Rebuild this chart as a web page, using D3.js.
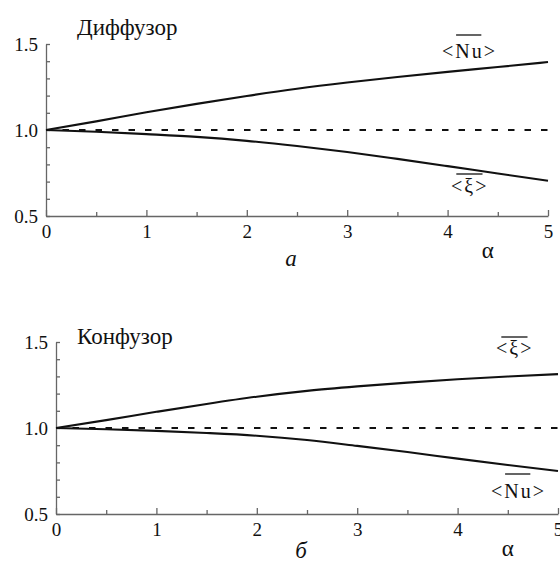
<!DOCTYPE html>
<html>
<head>
<meta charset="utf-8">
<script src="https://cdn.jsdelivr.net/npm/d3@7"></script>
<style>
  body { margin: 0; background: #fff; }
</style>
</head>
<body>
<div id="chart"></div>
<script>
// Data
var alpha = [0, 0.5, 1, 1.5, 2, 2.5, 3, 3.5, 4, 4.5, 5];
var diffNu = [1.0, 1.05, 1.103, 1.152, 1.198, 1.24, 1.276, 1.308, 1.338, 1.366, 1.395];
var diffXi = [1.0, 0.99, 0.976, 0.96, 0.937, 0.907, 0.872, 0.832, 0.79, 0.747, 0.705];
var confXi = [1.0, 1.046, 1.094, 1.14, 1.182, 1.216, 1.242, 1.264, 1.283, 1.299, 1.313];
var confNu = [1.0, 0.993, 0.983, 0.971, 0.955, 0.93, 0.896, 0.86, 0.822, 0.785, 0.75];
var refLevel = [1.0, 1.0];
var refAlpha = [0, 5];

var xMajorTicks = [0, 1, 2, 3, 4, 5];
var xMinorTicks = [0.5, 1.5, 2.5, 3.5, 4.5];
var yMinorTicks = [0.5, 0.6, 0.7, 0.8, 0.9, 1.0, 1.1, 1.2, 1.3, 1.4, 1.5];
var yLabelTicks = [0.5, 1.0, 1.5];

var width = 560, height = 564;
var serif = "Liberation Serif";

var svg = d3.select("#chart").append("svg")
    .attr("width", width)
    .attr("height", height);

// one panel of the figure
function drawPanel(opts) {
    var w = 502, h = 172;
    var g = svg.append("g")
        .attr("transform", "translate(" + opts.left + "," + opts.top + ")");

    var x = d3.scaleLinear().domain([0, 5]).range([0, w]);
    var y = d3.scaleLinear().domain([0.5, 1.5]).range([h, 0]);

    // x axis: major ticks + labels
    var xAxis = g.append("g")
        .attr("transform", "translate(0," + h + ")")
        .call(d3.axisBottom(x).tickValues(xMajorTicks).tickSize(-6).tickSizeOuter(0)
            .tickPadding(9).tickFormat(d3.format("d")));
    // minor x ticks
    g.append("g")
        .attr("transform", "translate(0," + h + ")")
        .call(d3.axisBottom(x).tickValues(xMinorTicks).tickSize(-4).tickSizeOuter(0).tickFormat(""))
        .call(function (a) {
            a.select(".domain").remove();
            a.selectAll("line").attr("stroke", "#666").attr("stroke-width", 1.3);
        });

    // y axis
    var yAxis = g.append("g")
        .call(d3.axisLeft(y).tickValues(yMinorTicks).tickSize(-4).tickSizeOuter(0)
            .tickPadding(8)
            .tickFormat(function (d) {
                return yLabelTicks.some(function (v) { return Math.abs(v - d) < 1e-9; }) ? d3.format(".1f")(d) : "";
            }));

    [xAxis, yAxis].forEach(function (a) {
        a.attr("font-family", serif).attr("font-size", 19);
        a.selectAll("path, line").attr("stroke", "#666").attr("stroke-width", 1.3);
        a.selectAll("text").attr("fill", "#111");
    });
    yAxis.selectAll("text").attr("dy", "0.36em");

    // dashed reference level
    var line = d3.line()
        .x(function (d) { return x(d[0]); })
        .y(function (d) { return y(d[1]); });
    g.append("path")
        .datum(d3.zip(refAlpha, refLevel))
        .attr("d", line)
        .attr("fill", "none")
        .attr("stroke", "#111")
        .attr("stroke-width", 2.2)
        .attr("stroke-dasharray", "6.5,10");

    var curve = d3.line()
        .x(function (d) { return x(d[0]); })
        .y(function (d) { return y(d[1]); })
        .curve(d3.curveMonotoneX);

    [opts.upper, opts.lower].forEach(function (s) {
        g.append("path")
            .datum(d3.zip(alpha, s))
            .attr("d", curve)
            .attr("fill", "none")
            .attr("stroke", "#111")
            .attr("stroke-width", 2.1);
    });

    // title
    g.append("text")
        .attr("x", opts.titleX)
        .attr("y", opts.titleY)
        .attr("font-family", serif)
        .attr("font-size", 23)
        .attr("fill", "#111")
        .text(opts.title);

    // curve labels with overbar
    opts.labels.forEach(function (lb) {
        var t = g.append("text")
            .attr("x", lb.x)
            .attr("y", lb.y)
            .attr("font-family", serif)
            .attr("font-size", 20)
            .attr("letter-spacing", 2)
            .attr("fill", "#111")
            .text(lb.text);
        var node = t.node();
        var a = node.getExtentOfChar(lb.from);
        var b = node.getExtentOfChar(lb.to);
        g.append("line")
            .attr("x1", a.x + a.width * lb.fa)
            .attr("x2", b.x + b.width * lb.fb)
            .attr("y1", lb.y - lb.bar)
            .attr("y2", lb.y - lb.bar)
            .attr("stroke", "#111")
            .attr("stroke-width", 1.3);
    });

    // alpha and panel letter
    g.append("text")
        .attr("x", x(opts.alphaAt))
        .attr("y", h + 42)
        .attr("text-anchor", "middle")
        .attr("font-family", serif)
        .attr("font-size", 23)
        .attr("fill", "#111")
        .text("α");
    g.append("text")
        .attr("x", x(2.44))
        .attr("y", h + opts.letterDy)
        .attr("text-anchor", "middle")
        .attr("font-family", serif)
        .attr("font-size", 23)
        .attr("font-style", "italic")
        .attr("fill", "#111")
        .text(opts.letter);
}

drawPanel({
    left: 46, top: 44,
    upper: diffNu, lower: diffXi,
    title: "Диффузор", titleX: 31, titleY: -9,
    letter: "а", letterDy: 50, alphaAt: 4.4,
    labels: [
        { text: "<Nu>", x: 396, y: 14, from: 1, to: 2, fa: 0.05, fb: 0.8, bar: 23 },
        { text: "<ξ>", x: 405, y: 149, from: 0, to: 2, fa: 0.4, fb: 0.55, bar: 19 }
    ]
});

drawPanel({
    left: 56, top: 342,
    upper: confXi, lower: confNu,
    title: "Конфузор", titleX: 21, titleY: 2,
    letter: "б", letterDy: 44, alphaAt: 4.5,
    labels: [
        { text: "<ξ>", x: 440, y: 13, from: 0, to: 2, fa: 0.4, fb: 0.55, bar: 18 },
        { text: "<Nu>", x: 435, y: 156, from: 1, to: 2, fa: 0.05, fb: 0.8, bar: 24 }
    ]
});
</script>
</body>
</html>
